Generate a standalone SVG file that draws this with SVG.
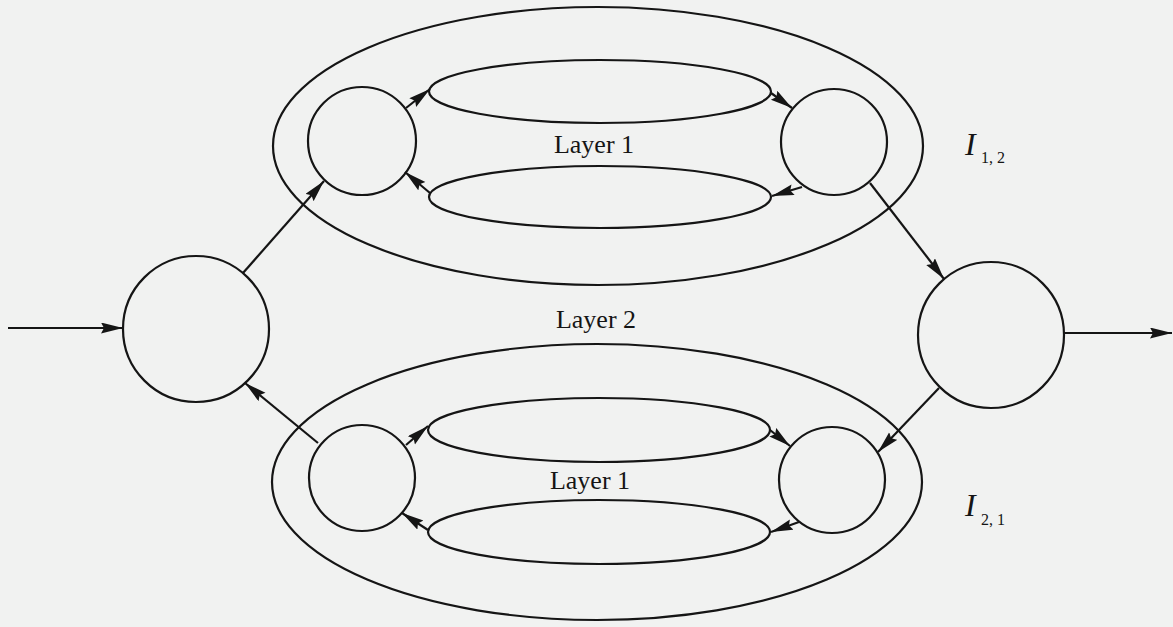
<svg xmlns="http://www.w3.org/2000/svg" width="1173" height="627" viewBox="0 0 1173 627">
<defs>
<marker id="ah" markerUnits="userSpaceOnUse" markerWidth="24" markerHeight="14" refX="22" refY="5.5" orient="auto">
<path d="M0,0 L22,5.5 L0,11 L3,5.5 z" fill="#151515"/>
</marker>
<style>
.s{fill:none;stroke:#151515;stroke-width:2.2}
.c{fill:none;stroke:#151515;stroke-width:2.2;marker-end:url(#ah)}
.t{font-family:"Liberation Serif","Times New Roman",serif;font-size:26px;fill:#151515}
.i{font-family:"Liberation Serif","Times New Roman",serif;font-style:italic;font-size:32px;fill:#151515}
.sub{font-family:"Liberation Serif","Times New Roman",serif;font-size:16px;fill:#151515}
</style>
</defs>
<rect width="1173" height="627" fill="#f1f2f1"/>
<g id="outer-top"><ellipse class="s" cx="598" cy="146" rx="325" ry="139"/></g>
<g id="outer-bottom"><ellipse class="s" cx="597" cy="482" rx="325" ry="138"/></g>
<g id="in-node"><circle class="s" cx="196" cy="329" r="73"/></g>
<g id="out-node"><circle class="s" cx="991" cy="335" r="73"/></g>
<g id="top-left"><circle class="s" cx="362" cy="141" r="54"/></g>
<g id="top-right"><circle class="s" cx="834" cy="142" r="53"/></g>
<g id="top-upper"><ellipse class="s" cx="600" cy="91.5" rx="171" ry="31.5"/></g>
<g id="top-lower"><ellipse class="s" cx="600" cy="197" rx="171" ry="31"/></g>
<g id="bot-left"><circle class="s" cx="362" cy="478" r="53"/></g>
<g id="bot-right"><circle class="s" cx="832" cy="480" r="53"/></g>
<g id="bot-upper"><ellipse class="s" cx="599" cy="430" rx="171" ry="32"/></g>
<g id="bot-lower"><ellipse class="s" cx="599" cy="532" rx="171" ry="32"/></g>
<g id="labels">
<text class="t" x="594" y="153" text-anchor="middle">Layer 1</text>
<text class="t" x="596" y="328" text-anchor="middle">Layer 2</text>
<text class="t" x="590" y="489" text-anchor="middle">Layer 1</text>
<text class="i" x="965" y="155">I</text>
<text class="sub" x="981" y="163">1, 2</text>
<text class="i" x="965" y="516">I</text>
<text class="sub" x="981" y="525">2, 1</text>
</g>
<g id="connectors">
<path class="c" d="M8,328 L123,328"/>
<path class="c" d="M243,273 L324,181"/>
<path class="c" d="M406,108 L430,89"/>
<path class="c" d="M771,93 L792,108"/>
<path class="c" d="M802,187 L772,196"/>
<path class="c" d="M430,193 L405,172"/>
<path class="c" d="M870,183 L944,279"/>
<path class="c" d="M1064,333 L1172,333"/>
<path class="c" d="M939,388 L878,452"/>
<path class="c" d="M799,522 L771,532"/>
<path class="c" d="M770,430 L790,446"/>
<path class="c" d="M406,445 L428,426"/>
<path class="c" d="M428,530 L402,513"/>
<path class="c" d="M318,443 L245,383"/>
</g>
</svg>
